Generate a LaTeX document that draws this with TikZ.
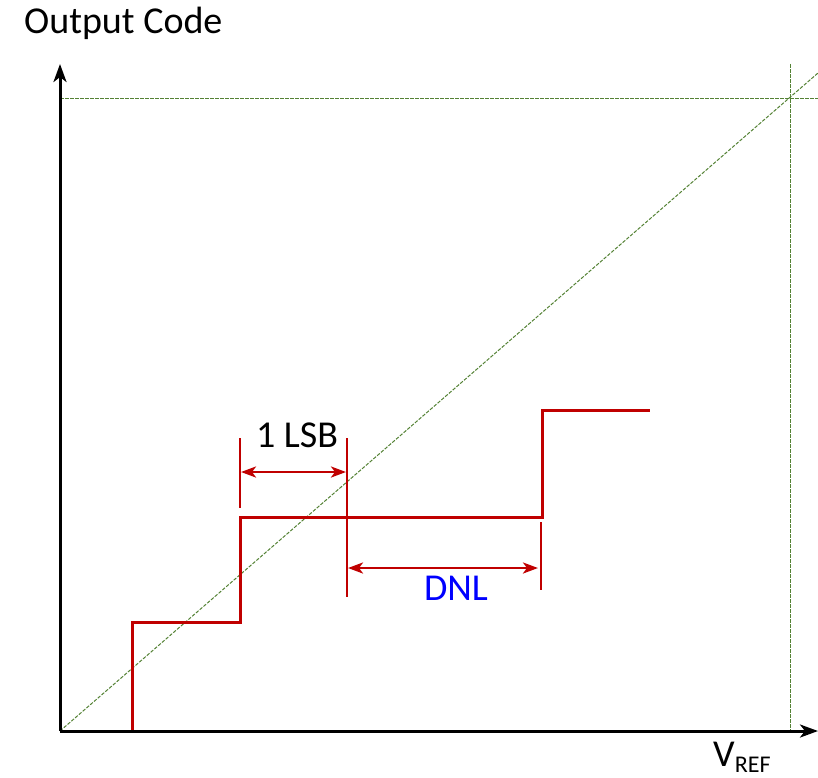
\documentclass[tikz,border=0pt]{standalone}
\usepackage{fontspec}
\setmainfont{Carlito}
\usetikzlibrary{arrows.meta}
\definecolor{stepred}{HTML}{C00000}
\definecolor{refgreen}{HTML}{548235}
\definecolor{dnlblue}{HTML}{0000FF}
\begin{document}
\begin{tikzpicture}[x=1pt,y=-1pt,
  axis/.style={line width=3pt,-{Stealth[length=18pt,width=13pt,inset=5pt]}},
  refline/.style={refgreen,line width=1pt,dash pattern=on 3.5pt off 1.5pt},
  stair/.style={stepred,line width=3pt},
  tick/.style={stepred,line width=1.5pt},
  dim/.style={stepred,line width=2.7pt,{Stealth[length=15pt,width=11pt,inset=4pt]}-{Stealth[length=15pt,width=11pt,inset=4pt]}},
  lbl/.style={font=\fontsize{38}{42}\selectfont,inner sep=0pt}]
\useasboundingbox (0,0) rectangle (818,777);
% axes
\coordinate (o) at (60,731);
\coordinate (ytop) at (60,64);
\coordinate (xend) at (818,731);
% reference lines
\coordinate (hl) at (60,98);
\coordinate (hr) at (818,98);
\coordinate (vt) at (790,64);
\coordinate (vb) at (790,731);
\coordinate (dend) at (818,73);
\draw[refline] (hl) -- (hr);
\draw[refline] (vt) -- (vb);
\draw[refline] (o) -- (dend);
% staircase
\coordinate (s0) at (132,731);
\coordinate (s1) at (132,622);
\coordinate (s2) at (240,622);
\coordinate (s3) at (240,517);
\coordinate (s4) at (542,517);
\coordinate (s5) at (542,410);
\coordinate (s6) at (650,410);
\draw[stair,line join=miter] (s0) -- (s1) -- (s2) -- (s3) -- (s4) -- (s5) -- (s6);
% extension ticks
\coordinate (t1a) at (240,438);
\coordinate (t1b) at (240,508);
\coordinate (t2a) at (347,438);
\coordinate (t2b) at (347,597);
\coordinate (t3a) at (541,522);
\coordinate (t3b) at (541,590);
\draw[tick] (t1a) -- (t1b);
\draw[tick] (t2a) -- (t2b);
\draw[tick] (t3a) -- (t3b);
% dimension arrows
\coordinate (la) at (241,472);
\coordinate (lb) at (346,472);
\coordinate (da) at (348,568);
\coordinate (db) at (538,568);
\draw[dim] (la) -- (lb);
\draw[dim] (da) -- (db);
% axes on top
\draw[axis] (o) -- (ytop);
\draw[axis] (o) -- (xend);
% labels
\node[lbl,anchor=base west] (ylab) at (24,33) {Output Code};
\node[lbl,anchor=base] (lsb) at (297,447) {1 LSB};
\node[lbl,anchor=base,text=dnlblue] (dnl) at (456,600) {DNL};
\node[lbl,anchor=base west] (xlab) at (713,766) {V\raisebox{-6pt}{\fontsize{24}{26}\selectfont REF}};
\end{tikzpicture}
\end{document}
